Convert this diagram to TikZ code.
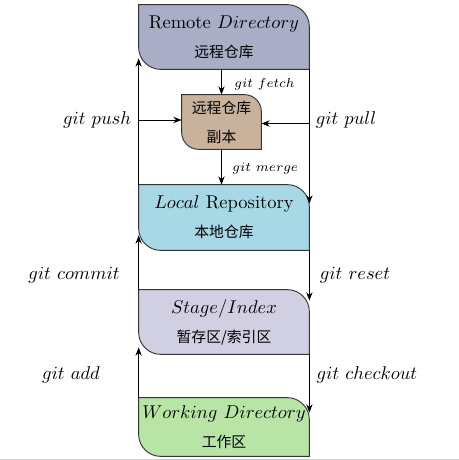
\documentclass[tikz,border=0pt]{standalone}
\usepackage{fontspec}
\newfontfamily\cjk{Noto Sans CJK SC}
\usetikzlibrary{arrows.meta,calc,backgrounds}
\definecolor{remotec}{HTML}{A9ADC5}
\definecolor{copyc}{HTML}{C9B29C}
\definecolor{localc}{HTML}{A6D8E6}
\definecolor{stagec}{HTML}{D1D0E3}
\definecolor{workc}{HTML}{B8E4A6}
\definecolor{boxline}{HTML}{333333}
\newcommand\gitshape[3]{%
  \filldraw[draw=boxline, fill=#2, line width=0.5pt]
    (#1.north west) -- ([xshift=-#3]#1.north east)
    arc[start angle=90,end angle=0,radius=#3] -- (#1.south east)
    -- ([xshift=#3]#1.south west)
    arc[start angle=270,end angle=180,radius=#3] -- cycle;}
\tikzset{
  gbox/.style={rectangle, inner sep=0pt, align=center, minimum width=91.8pt,
    font=\fontsize{10}{15.7}\selectfont},
  arr/.style={-{Stealth[length=4.5pt,width=3.4pt]}, line width=0.5pt},
  cmd/.style={font=\fontsize{10}{12}\selectfont, inner sep=0pt},
  smallcmd/.style={font=\fontsize{7}{8}\selectfont, inner sep=0pt, anchor=west}
}
\newcommand\zhtext[1]{{\fontsize{8}{15.7}\selectfont\cjk #1}}
\begin{document}
\begin{tikzpicture}[x=0.54pt,y=0.54pt]
\useasboundingbox (0,0) rectangle (459,460);
\fill[black!20] (0,0) rectangle (459,1.5);
% boxes
\node[gbox, minimum height=34.56pt] (remote) at (224,423) {Remote $Directory$\\\zhtext{远程仓库}};
\node[gbox, minimum width=42.66pt, minimum height=29.16pt] (copy) at (221.5,338) {\zhtext{远程仓库}\\\zhtext{副本}};
\node[gbox, minimum height=35.1pt] (local) at (224,242.5) {$Local$ Repository\\\zhtext{本地仓库}};
\node[gbox, minimum height=34.56pt] (stage) at (224,138) {$Stage/Index$\\\zhtext{暂存区/索引区}};
\node[gbox, minimum height=31.32pt] (work) at (224,33) {$Working\ Directory$\\\zhtext{工作区}};
\begin{pgfonlayer}{background}
\gitshape{remote}{remotec}{11.9pt}
\gitshape{copy}{copyc}{9.2pt}
\gitshape{local}{localc}{11.9pt}
\gitshape{stage}{stagec}{11.9pt}
\gitshape{work}{workc}{11.9pt}
\end{pgfonlayer}
% connector end points
\coordinate (pushtip) at ($(remote.south west)+(0,11)$);
\coordinate (pushin) at ($(copy.west)+(0,2)$);
\coordinate (pushout) at (local.north west |- pushin);
\coordinate (pulltip) at ($(local.north east)+(0,-19)$);
\coordinate (pullin) at ($(copy.east)+(0,-1.5)$);
\coordinate (pullout) at (remote.south east |- pullin);
\coordinate (committip) at ($(local.south west)+(0,15)$);
\coordinate (resettip) at ($(stage.north east)+(0,-11)$);
\coordinate (addtip) at ($(stage.south west)+(0,7)$);
\coordinate (checkouttip) at ($(work.north east)+(0,-15)$);
% connectors
\draw[arr] (local.north west) -- (pushtip);
\draw[arr] (pushout) -- (pushin);
\draw[arr] (remote.south east) -- (pulltip);
\draw[arr] (pullout) -- (pullin);
\draw[arr] (remote.south -| copy.north) -- (copy.north);
\draw[arr] (copy.south) -- (local.north -| copy.south);
\draw[arr] (stage.north west) -- (committip);
\draw[arr] (local.south east) -- (resettip);
\draw[arr] (work.north west) -- (addtip);
\draw[arr] (stage.south east) -- (checkouttip);
% labels
\node[cmd] (lpush) at (97,340) {$git\ push$};
\node[cmd] (lpull) at (346,340) {$git\ pull$};
\node[cmd] (lcommit) at (74,185) {$git\ commit$};
\node[cmd] (lreset) at (355,185) {$git\ reset$};
\node[cmd] (ladd) at (71,85) {$git\ add$};
\node[cmd] (lcheckout) at (367,85) {$git\ checkout$};
\node[smallcmd] (lfetch) at (234,376) {$git\ fetch$};
\node[smallcmd] (lmerge) at (232,292) {$git\ merge$};
\end{tikzpicture}
\end{document}
